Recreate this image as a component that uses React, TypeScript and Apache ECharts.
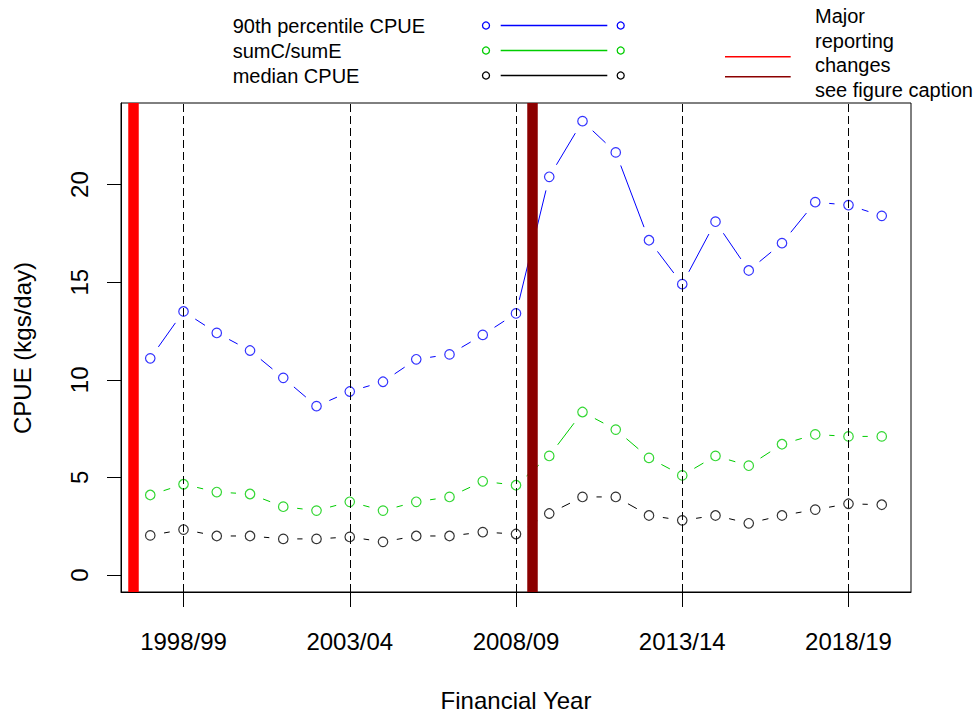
import React, { useEffect, useRef } from "react";
import * as echarts from "echarts";

// ---- data ----
const years = [1997, 1998, 1999, 2000, 2001, 2002, 2003, 2004, 2005, 2006, 2007, 2008, 2009, 2010, 2011, 2012, 2013, 2014, 2015, 2016, 2017, 2018, 2019];
const p90CPUE = [11.1, 13.5, 12.4, 11.5, 10.1, 8.65, 9.4, 9.9, 11.05, 11.3, 12.3, 13.4, 20.4, 23.25, 21.65, 17.15, 14.9, 18.1, 15.6, 17.0, 19.1, 18.95, 18.4];
const sumCsumE = [4.1, 4.65, 4.25, 4.15, 3.5, 3.3, 3.75, 3.3, 3.75, 4.0, 4.8, 4.6, 6.1, 8.35, 7.45, 6.0, 5.1, 6.1, 5.6, 6.7, 7.2, 7.1, 7.1];
const medianCPUE = [2.03, 2.33, 2.0, 2.0, 1.85, 1.85, 1.95, 1.7, 2.0, 2.0, 2.2, 2.1, 3.15, 4.0, 4.0, 3.05, 2.8, 3.05, 2.65, 3.05, 3.35, 3.65, 3.6];
const seriesNames = ["90th percentile CPUE", "sumC/sumE", "median CPUE"];
const xTickYears = [1998, 2003, 2008, 2013, 2018];
const xTickLabels = ["1998/99", "2003/04", "2008/09", "2013/14", "2018/19"];
const yTicks = [0, 5, 10, 15, 20];
const changeYears = [1996.5, 2008.5];
const changeLabels = ["Major", "reporting", "changes", "see figure caption"];

const FONT = "'Liberation Sans', Arial, sans-serif";
const COLORS = ["#0000FF", "#00CD00", "#000000"];
const CHANGE_COLORS = ["#FF0000", "#8B0000"];
const GAP = 14; // px gap around points (R type = "b")

export default function App() {
  const ref = useRef<HTMLDivElement>(null);
  useEffect(() => {
    if (!ref.current) return;
    const chart = echarts.init(ref.current, undefined, { renderer: "svg" });
    const valueSets = [p90CPUE, sumCsumE, medianCPUE];
    const series: any[] = [];
    valueSets.forEach((vals, i) => {
      const data = years.map((y, k) => [y, vals[k]]);
      const segs = years.slice(0, -1).map((y, k) => [y, vals[k], years[k + 1], vals[k + 1]]);
      const color = COLORS[i];
      series.push({
        type: "custom",
        name: seriesNames[i] + " line",
        data: segs,
        encode: { x: [0, 2], y: [1, 3] },
        z: 2,
        silent: true,
        clip: true,
        renderItem: (params: any, api: any) => {
          const p1 = api.coord([api.value(0), api.value(1)]);
          const p2 = api.coord([api.value(2), api.value(3)]);
          const dx = p2[0] - p1[0];
          const dy = p2[1] - p1[1];
          const len = Math.hypot(dx, dy);
          if (len <= 2 * GAP) return null;
          const ux = dx / len;
          const uy = dy / len;
          return {
            type: "line",
            shape: { x1: p1[0] + ux * GAP, y1: p1[1] + uy * GAP, x2: p2[0] - ux * GAP, y2: p2[1] - uy * GAP },
            style: { stroke: color, lineWidth: 1, fill: null },
          };
        },
      });
      series.push({
        type: "scatter",
        name: seriesNames[i],
        data,
        symbol: "circle",
        symbolSize: 9.5,
        itemStyle: { color: "rgba(255,255,255,0)", borderColor: color, borderWidth: 1.2 },
        z: 4,
        silent: true,
        ...(i === 0
          ? {
              markLine: {
                silent: true,
                symbol: ["none", "none"],
                label: { show: false },
                z: 6,
                data: [
                  ...xTickYears.map((x) => ({ xAxis: x, lineStyle: { type: [8, 4], color: "#000", width: 1 } })),
                  ...changeYears.map((x, j) => ({ xAxis: x, lineStyle: { type: "solid", color: CHANGE_COLORS[j], width: 10.5, cap: "butt" } })),
                ],
              },
            }
          : {}),
      });
    });

    const rows = [25.5, 50.5, 75.5];
    const graphic: any[] = [];
    seriesNames.forEach((n, i) => {
      graphic.push({ type: "text", x: 232.7, y: rows[i], style: { text: n, font: `20px ${FONT}`, fill: "#000", align: "left", verticalAlign: "middle" } });
      graphic.push({ type: "circle", shape: { cx: 486, cy: rows[i], r: 3.5 }, style: { fill: "none", stroke: COLORS[i], lineWidth: 1.3 } });
      graphic.push({ type: "line", shape: { x1: 500.7, y1: rows[i], x2: 607.3, y2: rows[i] }, style: { stroke: COLORS[i], lineWidth: 1.3 } });
      graphic.push({ type: "circle", shape: { cx: 620.7, cy: rows[i], r: 3.5 }, style: { fill: "none", stroke: COLORS[i], lineWidth: 1.3 } });
    });
    const changeRows = [56.7, 76.7];
    CHANGE_COLORS.forEach((c, j) => {
      graphic.push({ type: "line", shape: { x1: 725, y1: changeRows[j], x2: 790.7, y2: changeRows[j] }, style: { stroke: c, lineWidth: 1.5 } });
    });
    const labelRows = [16, 40.5, 65, 89.5];
    changeLabels.forEach((t, j) => {
      graphic.push({ type: "text", x: 815, y: labelRows[j], style: { text: t, font: `20px ${FONT}`, fill: "#000", align: "left", verticalAlign: "middle" } });
    });
    graphic.push({ type: "text", x: 516, y: 700, style: { text: "Financial Year", font: `24px ${FONT}`, fill: "#000", align: "center", verticalAlign: "middle" } });
    graphic.push({ type: "text", x: 22.5, y: 348, rotation: Math.PI / 2, style: { text: "CPUE (kgs/day)", font: `24px ${FONT}`, fill: "#000", align: "center", verticalAlign: "middle" } });

    chart.setOption({
      animation: false,
      backgroundColor: "#ffffff",
      grid: { left: 121, right: 63, top: 103, bottom: 120, show: true, borderColor: "#000", borderWidth: 1, backgroundColor: "transparent", containLabel: false },
      xAxis: {
        type: "value",
        min: 1996.12,
        max: 2019.88,
        axisLine: { show: true, onZero: false, lineStyle: { color: "#000", width: 1 } },
        axisTick: { show: true, customValues: xTickYears, length: 15, lineStyle: { color: "#000", width: 1 } },
        axisLabel: {
          customValues: xTickYears,
          formatter: (v: number) => xTickLabels[xTickYears.indexOf(Math.round(v))] ?? "",
          fontSize: 24,
          fontFamily: FONT,
          color: "#000",
          margin: 37,
        },
        splitLine: { show: false },
      },
      yAxis: {
        type: "value",
        min: -0.87,
        max: 24.18,
        axisLine: { show: true, onZero: false, lineStyle: { color: "#000", width: 1 } },
        axisTick: { show: true, customValues: yTicks, length: 14, lineStyle: { color: "#000", width: 1 } },
        axisLabel: { customValues: yTicks, rotate: 90, fontSize: 24, fontFamily: FONT, color: "#000", margin: 30 },
        splitLine: { show: false },
      },
      series,
      graphic,
    });
    return () => chart.dispose();
  }, []);
  return <div ref={ref} style={{ position: "absolute", left: 0, top: 0, width: 974, height: 712 }} />;
}
